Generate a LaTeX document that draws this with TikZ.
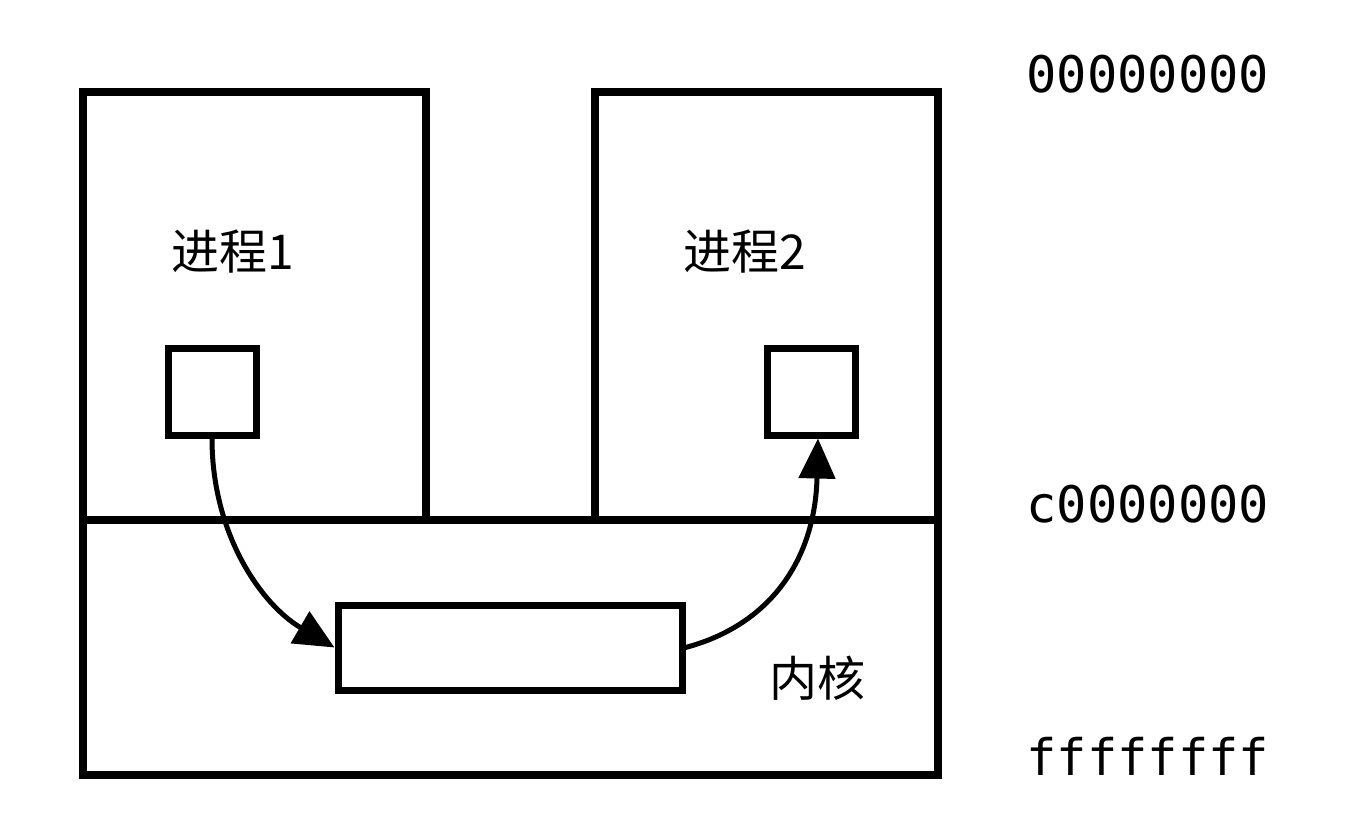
\documentclass[tikz,border=0pt]{standalone}
\usepackage{fontspec}
\setmainfont{Noto Sans CJK SC}
\newfontfamily\monof{DejaVu Sans Mono}
\usetikzlibrary{arrows.meta}
\begin{document}
\begin{tikzpicture}[x=0.5pt,y=-0.5pt,
  bigbox/.style={draw, line width=4pt, inner sep=0pt},
  smallbox/.style={draw, line width=3.5pt, inner sep=0pt},
  lbl/.style={font=\fontsize{24pt}{28pt}\selectfont, inner sep=0pt},
  addr/.style={font=\monof\fontsize{25.2pt}{29pt}\selectfont, inner sep=0pt, anchor=base west},
  arr/.style={line width=2.5pt, -{Triangle[length=20pt,width=18pt]}}]
\useasboundingbox (0,0) rectangle (1372,816);
\fill[white] (0,0) rectangle (1372,816);
% outer boxes
\node[bigbox, minimum width=171.5pt, minimum height=214pt] (p1) at (254.5,306) {};
\node[bigbox, minimum width=171.5pt, minimum height=214pt] (p2) at (766.5,306) {};
\node[bigbox, minimum width=427.5pt, minimum height=127.5pt] (kern) at (510.5,647.5) {};
% inner boxes
\node[smallbox, minimum width=44pt, minimum height=43.5pt] (sq1) at (212,391.5) {};
\node[smallbox, minimum width=44pt, minimum height=43.5pt] (sq2) at (811,391.5) {};
\node[smallbox, minimum width=172pt, minimum height=42.5pt] (kr) at (510,647.5) {};
% labels
\node[lbl] (t1) at (233,252) {进程1};
\node[lbl] (t2) at (745,252) {进程2};
\node[lbl] (tk) at (817,678) {内核};
\node[addr] (a0) at (1026,92) {00000000};
\node[addr] (a1) at (1026,522) {c0000000};
\node[addr] (a2) at (1026,775) {ffffffff};
% arrows
\draw[arr] (sq1.south) .. controls (212,535) and (262,605) .. (kr.west);
\draw[arr] (kr.east) .. controls (770,625) and (815,560) .. ([xshift=3.5pt]sq2.south);
\end{tikzpicture}
\end{document}
